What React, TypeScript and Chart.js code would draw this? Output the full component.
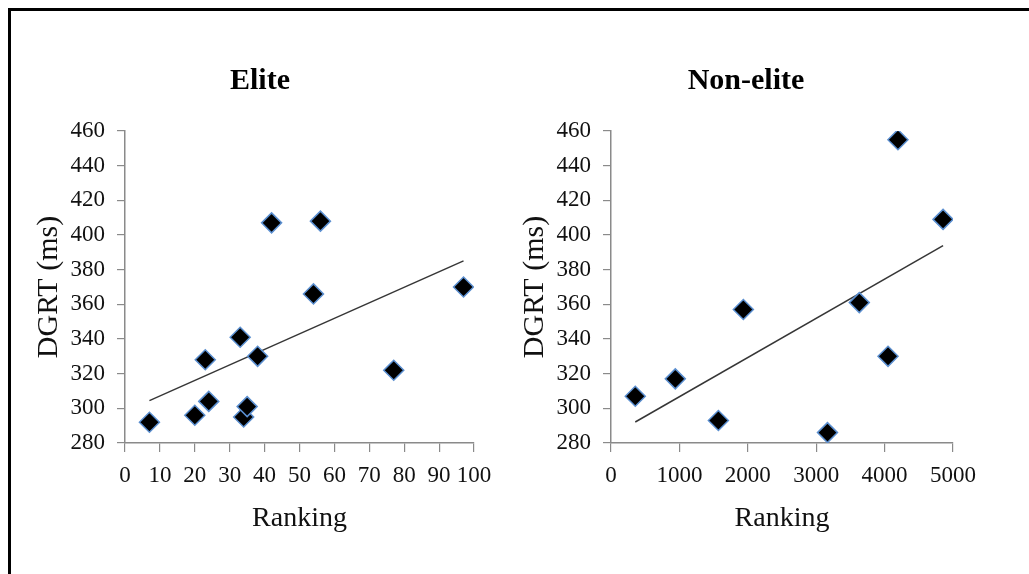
import React, { useEffect, useRef } from "react";
import { Chart, registerables } from "chart.js";

Chart.register(...registerables);

// ---- data ----
const eliteRanking = [7, 20, 23, 24, 33, 34, 35, 38, 42, 54, 56, 77, 97];
const eliteDGRT = [292, 296, 328, 304, 341, 295, 301, 330, 407, 366, 408, 322, 370];

const nonEliteRanking = [355, 940, 1570, 1935, 3165, 3630, 4050, 4195, 4855];
const nonEliteDGRT = [307, 317, 293, 357, 286, 361, 330, 455, 409];

const yMin = 280;
const yMax = 460;
const yStep = 20;

const eliteXMax = 100;
const eliteXStep = 10;
const nonEliteXMax = 5000;
const nonEliteXStep = 1000;

const FONT = "'Liberation Serif', 'Times New Roman', serif";

function linearFit(xs: number[], ys: number[]) {
  const n = xs.length;
  const mx = xs.reduce((a, b) => a + b, 0) / n;
  const my = ys.reduce((a, b) => a + b, 0) / n;
  let sxy = 0;
  let sxx = 0;
  for (let i = 0; i < n; i++) {
    sxy += (xs[i] - mx) * (ys[i] - my);
    sxx += (xs[i] - mx) * (xs[i] - mx);
  }
  const slope = sxy / sxx;
  const icpt = my - slope * mx;
  const x0 = Math.min(...xs);
  const x1 = Math.max(...xs);
  return [
    { x: x0, y: icpt + slope * x0 },
    { x: x1, y: icpt + slope * x1 },
  ];
}

const panelTitlePlugin = {
  id: "panelTitle",
  afterDraw(chart: any, _args: any, opts: any) {
    const ctx = chart.ctx;
    ctx.save();
    ctx.font = `bold 30px ${FONT}`;
    ctx.fillStyle = "#000000";
    ctx.textAlign = "center";
    ctx.textBaseline = "middle";
    ctx.fillText(opts.text, chart.width / 2, 81);
    ctx.restore();
  },
};

function buildConfig(
  title: string,
  xs: number[],
  ys: number[],
  xMax: number,
  xStep: number,
  padRight: number
): any {
  const pts = xs.map((x, i) => ({ x, y: ys[i] }));
  const axisColor = "#8a8a8a";
  return {
    type: "scatter",
    data: {
      datasets: [
        {
          type: "scatter",
          data: pts,
          pointStyle: "rectRot",
          pointRadius: 10,
          pointHoverRadius: 10,
          backgroundColor: "#000000",
          borderColor: "#5b8fd0",
          borderWidth: 1.5,
          order: 1,
        },
        {
          type: "line",
          data: linearFit(xs, ys),
          borderColor: "#363636",
          borderWidth: 1.5,
          pointRadius: 0,
          fill: false,
          order: 2,
        },
      ],
    },
    plugins: [panelTitlePlugin],
    options: {
      responsive: false,
      animation: false,
      events: [],
      layout: { padding: { top: 131, left: 0, right: padRight, bottom: 0 } },
      plugins: {
        legend: { display: false },
        tooltip: { enabled: false },
        title: { display: false },
        panelTitle: { text: title },
      },
      scales: {
        x: {
          type: "linear",
          position: "bottom",
          min: 0,
          max: xMax,
          afterFit: (s: any) => {
            s.height = 131;
          },
          ticks: {
            stepSize: xStep,
            color: "#111111",
            font: { family: FONT, size: 23, lineHeight: 1.2 },
            padding: 10,
            maxRotation: 0,
            autoSkip: false,
            callback: (v: any) => String(v),
          },
          grid: {
            display: true,
            drawOnChartArea: false,
            drawTicks: true,
            tickLength: 9,
            color: axisColor,
            lineWidth: 1.2,
          },
          border: { display: true, color: axisColor, width: 1.5 },
          title: {
            display: true,
            text: "Ranking",
            color: "#111111",
            font: { family: FONT, size: 28, lineHeight: 1.2 },
            padding: { top: 0, bottom: 39 },
          },
        },
        y: {
          type: "linear",
          position: "left",
          min: yMin,
          max: yMax,
          afterFit: (s: any) => {
            s.width = 125;
          },
          ticks: {
            stepSize: yStep,
            color: "#111111",
            font: { family: FONT, size: 23, lineHeight: 1.2 },
            padding: 12,
            callback: (v: any) => String(v),
          },
          grid: {
            display: true,
            drawOnChartArea: false,
            drawTicks: true,
            tickLength: 8,
            color: axisColor,
            lineWidth: 1.2,
          },
          border: { display: true, color: axisColor, width: 1.5 },
          title: {
            display: true,
            text: "DGRT (ms)",
            color: "#111111",
            font: { family: FONT, size: 30, lineHeight: 1.2 },
            padding: { top: 31, bottom: 0 },
          },
        },
      },
    },
  };
}

function Panel(props: {
  left: number;
  title: string;
  xs: number[];
  ys: number[];
  xMax: number;
  xStep: number;
  padRight: number;
}) {
  const ref = useRef<HTMLCanvasElement | null>(null);
  useEffect(() => {
    if (!ref.current) return;
    const chart = new Chart(
      ref.current,
      buildConfig(props.title, props.xs, props.ys, props.xMax, props.xStep, props.padRight)
    );
    return () => chart.destroy();
  }, []);
  return (
    <canvas
      ref={ref}
      width={520}
      height={574}
      style={{ position: "absolute", left: props.left, top: 0, width: 520, height: 574 }}
    />
  );
}

export default function App() {
  return (
    <div
      style={{
        position: "fixed",
        left: 0,
        top: 0,
        width: 1029,
        height: 574,
        overflow: "hidden",
        background: "#ffffff",
      }}
    >
      <div
        style={{
          position: "absolute",
          left: 8,
          top: 8,
          width: 1100,
          height: 700,
          borderTop: "3px solid #000",
          borderLeft: "3px solid #000",
          boxSizing: "border-box",
        }}
      />
      <Panel
        left={0}
        title="Elite"
        xs={eliteRanking}
        ys={eliteDGRT}
        xMax={eliteXMax}
        xStep={eliteXStep}
        padRight={46}
      />
      <Panel
        left={486}
        title="Non-elite"
        xs={nonEliteRanking}
        ys={nonEliteDGRT}
        xMax={nonEliteXMax}
        xStep={nonEliteXStep}
        padRight={53}
      />
    </div>
  );
}
